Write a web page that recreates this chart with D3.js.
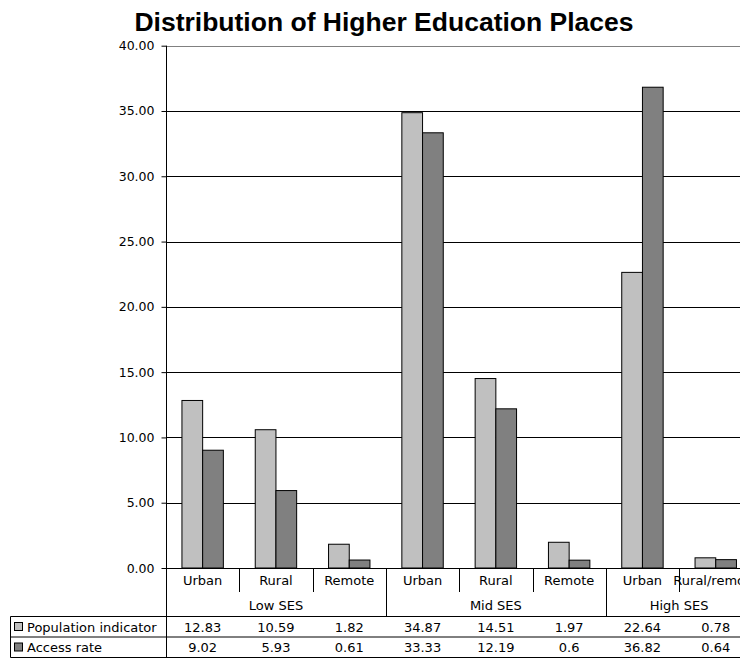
<!DOCTYPE html>
<html>
<head>
<meta charset="utf-8">
<script src="https://cdn.jsdelivr.net/npm/d3@7"></script>
<style>
  html, body { margin: 0; padding: 0; background: #fff; overflow: hidden; }
  svg { display: block; }
</style>
</head>
<body>
<div id="chart"></div>
<script>
// chart data
const categories = ["Urban", "Rural", "Remote", "Urban", "Rural", "Remote", "Urban", "Rural/remote"];
const categoryGroup = [0, 0, 0, 1, 1, 1, 2, 2];
const groupNames = ["Low SES", "Mid SES", "High SES"];
const seriesNames = ["Population indicator", "Access rate"];
const seriesColors = ["#c0c0c0", "#808080"];
const population = [12.83, 10.59, 1.82, 34.87, 14.51, 1.97, 22.64, 0.78];
const accessRate = [9.02, 5.93, 0.61, 33.33, 12.19, 0.6, 36.82, 0.64];
const yTicks = [0, 5, 10, 15, 20, 25, 30, 35, 40];

const W = 740, H = 659;
const plotLeft = 166, plotRight = 752.4;
const plotTop = 45.7, plotBase = 568;
const catFont = "'DejaVu Sans', Verdana, sans-serif";

let svg = d3.select("#chart").append("svg")
    .attr("width", W)
    .attr("height", H);

let x = d3.scaleBand()
    .domain(d3.range(categories.length))
    .range([plotLeft, plotRight])
    .paddingInner(0);

let x1 = d3.scaleBand()
    .domain([0, 1])
    .range([0, x.bandwidth()])
    .paddingInner(0)
    .paddingOuter(0.77);

let y = d3.scaleLinear()
    .domain([0, 40])
    .range([plotBase, plotTop]);

// title
svg.append("text")
    .attr("x", 384)
    .attr("y", 31)
    .attr("text-anchor", "middle")
    .style("font-family", "'Liberation Sans', Arial, sans-serif")
    .style("font-weight", "bold")
    .style("font-size", "26.5px")
    .text("Distribution of Higher Education Places");

// gridlines
svg.append("g")
    .selectAll("line")
    .data(yTicks.filter(d => d > 0))
    .join("line")
    .attr("x1", plotLeft)
    .attr("x2", plotRight)
    .attr("y1", d => Math.round(y(d)) + 0.5)
    .attr("y2", d => Math.round(y(d)) + 0.5)
    .attr("stroke", d => d === 40 ? "#808080" : "#000")
    .attr("stroke-width", 1);

// bars
let series = [population, accessRate];
let bars = svg.append("g");
series.forEach((vals, s) => {
    bars.selectAll(".bar" + s)
        .data(vals)
        .join("rect")
        .attr("class", "bar" + s)
        .attr("x", (d, i) => x(i) + x1(s))
        .attr("width", x1.bandwidth())
        .attr("y", d => y(d))
        .attr("height", d => plotBase - y(d))
        .attr("fill", seriesColors[s])
        .attr("stroke", "#000")
        .attr("stroke-width", 1);
});

// y axis
let yAxis = svg.append("g")
    .attr("transform", "translate(" + (plotLeft + 0.5) + ",0)")
    .call(d3.axisLeft(y)
        .tickValues(yTicks)
        .tickSize(5)
        .tickSizeOuter(0)
        .tickPadding(7)
        .tickFormat(d3.format(".2f")));
yAxis.select(".domain").remove();
yAxis.selectAll(".tick line").attr("stroke", "#000");
yAxis.selectAll("text")
    .style("font-family", catFont)
    .style("font-size", "12.5px")
    .attr("fill", "#000");

// axis lines
const tableTop = 616.5, rowH = 20.5;
svg.append("line")
    .attr("x1", plotLeft + 0.5).attr("x2", plotLeft + 0.5)
    .attr("y1", plotTop).attr("y2", tableTop + 2 * rowH)
    .attr("stroke", "#000");
svg.append("line")
    .attr("x1", plotLeft).attr("x2", plotRight)
    .attr("y1", plotBase + 0.5).attr("y2", plotBase + 0.5)
    .attr("stroke", "#000");

// category labels and separators
let catG = svg.append("g");
catG.selectAll("text")
    .data(categories)
    .join("text")
    .attr("x", (d, i) => x(i) + x.bandwidth() / 2)
    .attr("y", 585)
    .attr("text-anchor", "middle")
    .style("font-family", catFont)
    .style("font-size", "13px")
    .text(d => d);

catG.selectAll("line")
    .data(d3.range(1, categories.length + 1))
    .join("line")
    .attr("x1", i => Math.round(x(i - 1) + x.bandwidth()) + 0.5)
    .attr("x2", i => Math.round(x(i - 1) + x.bandwidth()) + 0.5)
    .attr("y1", plotBase)
    .attr("y2", i => (i < categories.length && categoryGroup[i] === categoryGroup[i - 1]) ? 592 : tableTop)
    .attr("stroke", "#000");

// group labels
let groupSpans = groupNames.map((g, gi) => {
    let idx = d3.range(categories.length).filter(i => categoryGroup[i] === gi);
    return { name: g, x0: x(idx[0]), x1: x(idx[idx.length - 1]) + x.bandwidth() };
});
svg.append("g")
    .selectAll("text")
    .data(groupSpans)
    .join("text")
    .attr("x", d => (d.x0 + d.x1) / 2)
    .attr("y", 610)
    .attr("text-anchor", "middle")
    .style("font-family", catFont)
    .style("font-size", "13px")
    .text(d => d.name);

// data table
let table = svg.append("g");
[0, 1, 2].forEach(r => {
    table.append("line")
        .attr("x1", 10.5).attr("x2", plotRight)
        .attr("y1", tableTop + r * rowH).attr("y2", tableTop + r * rowH)
        .attr("stroke", "#000");
});
table.append("line")
    .attr("x1", 10.5).attr("x2", 10.5)
    .attr("y1", tableTop).attr("y2", tableTop + 2 * rowH)
    .attr("stroke", "#000");

seriesNames.forEach((name, s) => {
    let ry = tableTop + s * rowH;
    table.append("rect")
        .attr("x", 14.5).attr("y", ry + 6)
        .attr("width", 8).attr("height", 8)
        .attr("fill", seriesColors[s])
        .attr("stroke", "#000");
    table.append("text")
        .attr("x", 27)
        .attr("y", ry + 15)
        .style("font-family", catFont)
        .style("font-size", "13px")
        .text(name);
    table.selectAll(".val" + s)
        .data(series[s])
        .join("text")
        .attr("class", "val" + s)
        .attr("x", (d, i) => x(i) + x.bandwidth() / 2)
        .attr("y", ry + 15)
        .attr("text-anchor", "middle")
        .style("font-family", catFont)
        .style("font-size", "13px")
        .text(d => String(d));
});
</script>
</body>
</html>
